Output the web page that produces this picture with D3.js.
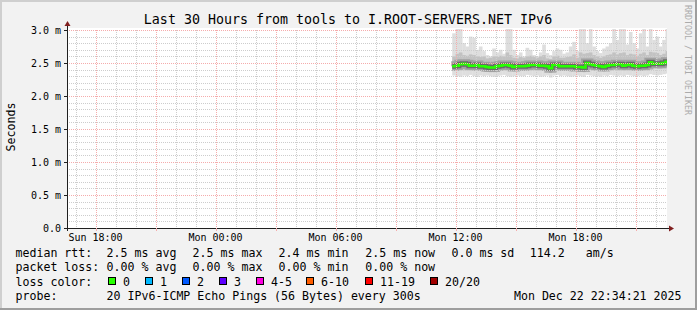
<!DOCTYPE html>
<html>
<head>
<meta charset="utf-8">
<script src="https://cdn.jsdelivr.net/npm/d3@7"></script>
<style>
body { margin: 0; background: #f2f2f2; }
svg { display: block; }
text { font-family: "DejaVu Sans Mono", monospace; fill: #000; }
</style>
</head>
<body>
<div id="chart"></div>
<script>

// ping data, one value per 10 minutes, Mon Dec 22 11:50 .. 22:30 (ms)
var median = [2.45,2.46,2.48,2.49,2.48,2.46,2.46,2.47,2.45,2.45,2.44,2.43,2.43,2.45,2.46,2.47,
  2.47,2.46,2.44,2.45,2.45,2.45,2.46,2.47,2.47,2.47,2.46,2.46,2.45,2.42,2.47,2.47,
  2.45,2.45,2.45,2.45,2.45,2.44,2.44,2.43,2.50,2.48,2.47,2.46,2.45,2.44,2.46,2.47,
  2.47,2.48,2.48,2.46,2.47,2.48,2.46,2.45,2.46,2.46,2.47,2.51,2.49,2.49,2.49,2.50,2.52];

var pingMin = [2.31,2.30,2.29,2.31,2.30,2.32,2.30,2.29,2.31,2.30,2.31,2.30,2.29,2.30,2.31,2.32,
  2.30,2.29,2.30,2.31,2.30,2.30,2.32,2.31,2.30,2.31,2.29,2.30,2.31,2.28,2.31,2.32,
  2.30,2.31,2.30,2.29,2.30,2.31,2.30,2.29,2.32,2.31,2.30,2.30,2.29,2.31,2.30,2.32,
  2.31,2.30,2.31,2.30,2.32,2.31,2.30,2.30,2.31,2.30,2.31,2.33,2.32,2.31,2.32,2.33,2.34];

var pingLow = [2.38,2.39,2.40,2.41,2.40,2.39,2.38,2.39,2.38,2.37,2.37,2.36,2.36,2.38,2.39,2.40,
  2.39,2.38,2.37,2.38,2.38,2.38,2.39,2.40,2.40,2.39,2.39,2.38,2.38,2.35,2.39,2.40,
  2.38,2.38,2.38,2.37,2.38,2.37,2.37,2.36,2.42,2.40,2.39,2.39,2.38,2.37,2.39,2.39,
  2.40,2.40,2.41,2.39,2.40,2.40,2.39,2.38,2.39,2.39,2.40,2.43,2.42,2.41,2.41,2.42,2.44];

var pingHigh = [2.60,2.64,2.66,2.62,2.61,2.63,2.62,2.60,2.59,2.60,2.57,2.58,2.60,2.59,2.61,2.60,
  2.66,2.62,2.58,2.57,2.59,2.58,2.60,2.61,2.59,2.58,2.60,2.62,2.57,2.56,2.60,2.61,
  2.58,2.58,2.59,2.60,2.63,2.58,2.66,2.64,2.65,2.66,2.62,2.60,2.58,2.60,2.62,2.63,
  2.66,2.63,2.65,2.66,2.62,2.64,2.63,2.61,2.64,2.66,2.62,2.67,2.66,2.65,2.62,2.64,2.68];

var pingMax = [2.95,3.10,3.10,2.80,2.75,2.90,2.88,2.70,2.75,2.68,2.62,2.60,2.72,2.66,2.70,2.64,
  3.05,3.05,2.70,2.62,2.66,2.60,2.73,2.70,2.62,2.60,2.66,2.78,2.65,2.62,2.68,2.72,
  2.70,2.64,2.66,2.75,2.82,2.68,3.05,3.05,2.80,3.05,2.75,2.68,2.65,2.72,2.75,2.80,
  3.05,2.85,3.05,3.05,2.78,2.97,2.80,2.72,2.95,3.05,2.75,3.05,2.85,2.90,2.75,2.85,3.05];

var dataStart = Date.UTC(2025, 11, 22, 11, 50, 0);
var stepMs = 10 * 60 * 1000;

var yTicks = [0, 0.5, 1, 1.5, 2, 2.5, 3];
var yTickLabels = ["0.0", "0.5 m", "1.0 m", "1.5 m", "2.0 m", "2.5 m", "3.0 m"];

var rttStats = ["2.5 ms avg", "2.5 ms max", "2.4 ms min", "2.5 ms now", "0.0 ms sd", "114.2", "am/s"];
var lossStats = ["0.00 % avg", "0.00 % max", "0.00 % min", "0.00 % now"];
var lossLabels = ["0", "1", "2", "3", "4-5", "6-10", "11-19", "20/20"];
var lossColors = ["#26ff00", "#00b8ff", "#0059ff", "#5e00ff", "#ff00e1", "#ff5e00", "#ff0000", "#a10000"];

var W = 697, H = 310;
var pL = 67, pR = 667, pT = 30, pB = 228;

var svg = d3.select("#chart").append("svg")
  .attr("width", W)
  .attr("height", H)

// background + 3d border
svg.append("rect").attr("width", W).attr("height", H).attr("fill", "#f2f2f2")
svg.append("path").attr("d", `M0,${H} V0 H${W}`).attr("fill", "none")
  .attr("stroke", "#cfcfcf").attr("stroke-width", 4)
svg.append("path").attr("d", `M0,${H} H${W} V0`).attr("fill", "none")
  .attr("stroke", "#9e9e9e").attr("stroke-width", 4)

// scales
var x = d3.scaleUtc()
  .domain([Date.UTC(2025, 11, 21, 16, 34, 21), Date.UTC(2025, 11, 22, 22, 34, 21)])
  .range([pL, pR])

var y = d3.scaleLinear()
  .domain([0, 3])
  .range([pB, pT])

svg.append("defs").append("clipPath").attr("id", "plot")
  .append("rect").attr("x", pL).attr("y", pT - 1).attr("width", pR - pL).attr("height", pB - pT + 1)

// canvas
svg.append("rect").attr("x", pL).attr("y", pT - 2).attr("width", pR - pL).attr("height", pB - pT + 2)
  .attr("fill", "#fff")

var plot = svg.append("g").attr("clip-path", "url(#plot)")

// smoke
var steps = d3.range(median.length).map(function(i) {
  return {
    t0: dataStart + i * stepMs,
    t1: dataStart + (i + 1) * stepMs,
    med: median[i], lo: pingMin[i], q1: pingLow[i], q3: pingHigh[i], hi: pingMax[i]
  }
})

var bands = [
  { a: "lo", b: "hi", color: "#dedede" },
  { a: "q1", b: "q3", color: "#c2c2c2" }
]

bands.forEach(function(band) {
  plot.append("g").selectAll("rect")
    .data(steps)
    .enter()
    .append("rect")
    .attr("x", d => x(d.t0))
    .attr("width", d => x(d.t1) - x(d.t0) + 0.3)
    .attr("y", d => y(d[band.b]))
    .attr("height", d => y(d[band.a]) - y(d[band.b]))
    .attr("fill", band.color)
})

var stepLine = d3.line()
  .x(d => x(d.t))
  .y(d => y(d.v))
  .curve(d3.curveStepAfter)

var medPts = steps.map(d => ({ t: d.t0, v: d.med }))
medPts.push({ t: steps[steps.length - 1].t1, v: median[median.length - 1] })

// darker smoke core around the median
plot.append("path").datum(medPts).attr("d", stepLine)
  .attr("fill", "none").attr("stroke", "#8a8a8a").attr("stroke-opacity", 0.6).attr("stroke-width", 9)
plot.append("path").datum(medPts).attr("d", stepLine)
  .attr("fill", "none").attr("stroke", "#3a3a3a").attr("stroke-opacity", 0.55).attr("stroke-width", 5)

// grid (drawn over the smoke, like rrdtool)
var grid = svg.append("g")
var minorY = d3.range(0, 3.01, 0.1).filter(v => Math.abs(v * 2 - Math.round(v * 2)) > 0.01)
var hours = d3.utcHour.range(x.domain()[0], x.domain()[1])
var minorX = hours.filter(d => d.getUTCHours() % 3 != 0)
var majorX = hours.filter(d => d.getUTCHours() % 3 == 0)
var minorCol = "#cdcdcd", majorCol = "#f5acac"

grid.selectAll(".minh").data(minorY).enter().append("line")
  .attr("x1", pL).attr("x2", pR)
  .attr("y1", d => Math.round(y(d)) + 0.5).attr("y2", d => Math.round(y(d)) + 0.5)
  .attr("stroke", minorCol).attr("stroke-dasharray", "1,1")
grid.selectAll(".minv").data(minorX).enter().append("line")
  .attr("x1", d => Math.round(x(d)) + 0.5).attr("x2", d => Math.round(x(d)) + 0.5)
  .attr("y1", pT).attr("y2", pB)
  .attr("stroke", minorCol).attr("stroke-dasharray", "1,1")
grid.selectAll(".majh").data(yTicks.slice(1)).enter().append("line")
  .attr("x1", pL).attr("x2", pR)
  .attr("y1", d => Math.round(y(d)) + 0.5).attr("y2", d => Math.round(y(d)) + 0.5)
  .attr("stroke", majorCol).attr("stroke-dasharray", "1,1")
grid.selectAll(".majv").data(majorX).enter().append("line")
  .attr("x1", d => Math.round(x(d)) + 0.5).attr("x2", d => Math.round(x(d)) + 0.5)
  .attr("y1", pT).attr("y2", pB)
  .attr("stroke", majorCol).attr("stroke-dasharray", "1,1")

// median line, coloured by loss (all 0 loss)
plot.append("path").datum(medPts).attr("d", stepLine)
  .attr("fill", "none").attr("stroke", lossColors[0]).attr("stroke-width", 2.5)

// axes
var axisG = svg.append("g")
axisG.append("line").attr("x1", pL - 3).attr("x2", pR + 3).attr("y1", pB + 0.5).attr("y2", pB + 0.5)
  .attr("stroke", "#1f1f1f")
axisG.append("line").attr("x1", pL + 0.5).attr("x2", pL + 0.5).attr("y1", pB + 3).attr("y2", pT - 5)
  .attr("stroke", "#1f1f1f")
axisG.append("path").attr("d", `M${pR + 2},${pB - 2.5} L${pR + 7},${pB + 0.5} L${pR + 2},${pB + 3.5} Z`)
  .attr("fill", "#801f1f")
axisG.append("path").attr("d", `M${pL - 2.5},${pT - 4} L${pL + 0.5},${pT - 9} L${pL + 3.5},${pT - 4} Z`)
  .attr("fill", "#801f1f")

// tick marks
axisG.selectAll(".xt").data(majorX).enter().append("line")
  .attr("x1", d => Math.round(x(d)) + 0.5).attr("x2", d => Math.round(x(d)) + 0.5)
  .attr("y1", pB).attr("y2", pB + 3).attr("stroke", majorCol)
axisG.selectAll(".yt").data(yTicks).enter().append("line")
  .attr("x1", pL - 3).attr("x2", pL)
  .attr("y1", d => Math.round(y(d)) + 0.5).attr("y2", d => Math.round(y(d)) + 0.5).attr("stroke", "#1f1f1f")

// y labels
svg.selectAll(".yl").data(yTicks).enter().append("text")
  .attr("x", 61).attr("y", d => y(d) + 4)
  .attr("text-anchor", "end").attr("font-size", "10px")
  .text((d, i) => yTickLabels[i])

// x labels every 6 hours
var xLabelTicks = hours.filter(d => d.getUTCHours() % 6 == 0)
var fmt = d3.utcFormat("%a %H:%M")
svg.selectAll(".xl").data(xLabelTicks).enter().append("text")
  .attr("x", d => x(d)).attr("y", 240.5)
  .attr("text-anchor", "middle").attr("font-size", "10px")
  .text(d => fmt(d))

// titles
svg.append("text").attr("x", 348).attr("y", 24).attr("text-anchor", "middle")
  .attr("font-size", "13.3px")
  .text("Last 30 Hours from tools to I.ROOT-SERVERS.NET IPv6")

svg.append("text").attr("transform", "translate(14.5,127) rotate(-90)")
  .attr("text-anchor", "middle").attr("font-size", "11.6px")
  .text("Seconds")

svg.append("text").attr("transform", "translate(685,5) rotate(90)")
  .attr("font-size", "8.3px").style("fill", "#ababab")
  .text("RRDTOOL / TOBI OETIKER")

// legend
var leg = svg.append("g").attr("font-size", "11.6px")
var rowY = [257, 271.3, 285.5, 299.7]
var statX = [106.6, 192.6, 278.6, 365.3, 451.5, 529.8, 585.8]

leg.append("text").attr("x", 15.5).attr("y", rowY[0]).text("median rtt:")
leg.selectAll(".rs").data(rttStats).enter().append("text")
  .attr("x", (d, i) => statX[i]).attr("y", rowY[0]).text(d => d)

leg.append("text").attr("x", 15.5).attr("y", rowY[1]).text("packet loss:")
leg.selectAll(".ls").data(lossStats).enter().append("text")
  .attr("x", (d, i) => statX[i]).attr("y", rowY[1]).text(d => d)

leg.append("text").attr("x", 15.5).attr("y", rowY[2]).text("loss color:")
var boxX = [108, 145, 182, 219, 256, 306, 365, 430]
leg.selectAll(".lb").data(lossColors).enter().append("rect")
  .attr("x", (d, i) => boxX[i] + 0.5).attr("y", 277.5)
  .attr("width", 7).attr("height", 7)
  .attr("fill", d => d).attr("stroke", "#000")
leg.selectAll(".lt").data(lossLabels).enter().append("text")
  .attr("x", (d, i) => boxX[i] + 15).attr("y", rowY[2]).text(d => d)

leg.append("text").attr("x", 15.5).attr("y", rowY[3]).text("probe:")
leg.append("text").attr("x", 106.6).attr("y", rowY[3]).text("20 IPv6-ICMP Echo Pings (56 Bytes) every 300s")
leg.append("text").attr("x", 681.5).attr("y", rowY[3]).attr("text-anchor", "end").text("Mon Dec 22 22:34:21 2025")

</script>
</body>
</html>
